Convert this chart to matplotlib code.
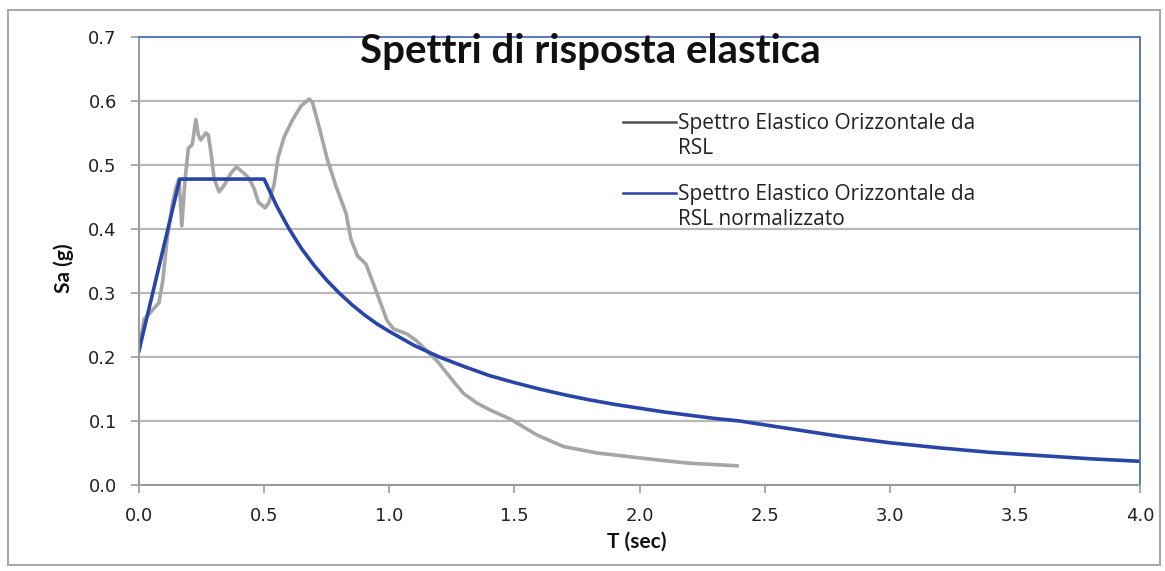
import matplotlib
matplotlib.use("Agg")
import matplotlib.pyplot as plt
from matplotlib.lines import Line2D
from matplotlib.patches import Rectangle

# --- data ---
T_rsl = [0.00, 0.02, 0.04, 0.08, 0.095, 0.113, 0.133, 0.147, 0.160, 0.171, 0.184, 0.197,
         0.213, 0.227, 0.237, 0.247, 0.267, 0.277, 0.287, 0.300, 0.320, 0.340, 0.367,
         0.389, 0.420, 0.440, 0.460, 0.477, 0.504, 0.520, 0.540, 0.556, 0.580, 0.613,
         0.647, 0.680, 0.693, 0.720, 0.753, 0.787, 0.827, 0.847, 0.873, 0.907, 0.940,
         0.991, 1.017, 1.071, 1.110, 1.191, 1.250, 1.297, 1.350, 1.404, 1.484, 1.591,
         1.697, 1.831, 1.964, 2.100, 2.200, 2.390]
Sa_rsl = [0.210, 0.259, 0.267, 0.285, 0.319, 0.386, 0.438, 0.464, 0.478, 0.405, 0.476, 0.526,
          0.532, 0.571, 0.547, 0.539, 0.550, 0.547, 0.521, 0.479, 0.458, 0.468, 0.487,
          0.497, 0.487, 0.479, 0.463, 0.442, 0.433, 0.442, 0.470, 0.512, 0.544, 0.570,
          0.592, 0.603, 0.598, 0.559, 0.508, 0.467, 0.425, 0.384, 0.358, 0.345, 0.311,
          0.257, 0.244, 0.236, 0.225, 0.194, 0.165, 0.143, 0.128, 0.117, 0.103, 0.078,
          0.060, 0.050, 0.044, 0.038, 0.034, 0.030]

T_norm = [0.00, 0.163, 0.50, 0.55, 0.60, 0.65, 0.70, 0.75, 0.80, 0.85, 0.90, 0.95, 1.00,
          1.10, 1.20, 1.30, 1.40, 1.50, 1.60, 1.70, 1.80, 1.90, 2.00, 2.10, 2.20, 2.30,
          2.40, 2.50, 2.60, 2.70, 2.80, 2.90, 3.00, 3.20, 3.40, 3.60, 3.80, 4.00]
Sa_norm = [0.210, 0.478, 0.478, 0.436, 0.400, 0.369, 0.343, 0.320, 0.300, 0.282, 0.266,
           0.252, 0.240, 0.218, 0.200, 0.185, 0.171, 0.160, 0.150, 0.141, 0.133, 0.126,
           0.120, 0.114, 0.109, 0.104, 0.100, 0.094, 0.088, 0.082, 0.076, 0.071, 0.066,
           0.058, 0.051, 0.046, 0.041, 0.037]

x_ticks = [0.0, 0.5, 1.0, 1.5, 2.0, 2.5, 3.0, 3.5, 4.0]
y_ticks = [0.0, 0.1, 0.2, 0.3, 0.4, 0.5, 0.6, 0.7]

title = "Spettri di risposta elastica"
label_rsl = "Spettro Elastico Orizzontale da\nRSL"
label_norm = "Spettro Elastico Orizzontale da\nRSL normalizzato"

W, H = 1165, 571
fig = plt.figure(figsize=(W / 100, H / 100), dpi=100)
fig.patch.set_facecolor("white")

# outer chart border
fig.add_artist(Rectangle((8 / W, 1 - 565 / H), (1160 - 8) / W, (565 - 10) / H,
                         transform=fig.transFigure, fill=False,
                         edgecolor="#a8a8a8", linewidth=1.5))

ax = fig.add_axes([139 / W, 1 - 485 / H, (1140 - 139) / W, (485 - 37) / H])
ax.set_xlim(0, 4.0)
ax.set_ylim(0, 0.7)
ax.set_xticks(x_ticks)
ax.set_yticks(y_ticks)
ax.set_xticklabels([f"{v:.1f}" for v in x_ticks])
ax.set_yticklabels([f"{v:.1f}" for v in y_ticks])
ax.grid(axis="y", color="#b8b8b8", linewidth=1.6)
ax.set_axisbelow(True)

for s in ["top", "right"]:
    ax.spines[s].set_color("#5a78c0")
    ax.spines[s].set_linewidth(1.4)
for s in ["left", "bottom"]:
    ax.spines[s].set_color("#9a9a9a")
    ax.spines[s].set_linewidth(1.4)

ax.tick_params(axis="both", colors="#9a9a9a", labelcolor="#222222",
               labelsize=13, length=6, width=1.2)
ax.tick_params(axis="y", pad=10)
ax.tick_params(axis="x", pad=10)

ax.plot(T_rsl, Sa_rsl, color="#a6a6a6", linewidth=2.6, solid_joinstyle="round")
ax.plot(T_norm, Sa_norm, color="#2a45a8", linewidth=2.6, solid_joinstyle="round")

fig.text(590 / W, 1 - 51 / H, title, ha="center", va="center",
         fontsize=29, fontweight="bold", family="Lato", color="#111111")
fig.text(64 / W, 1 - 268 / H, "Sa (g)", ha="center", va="center", rotation=90,
         fontsize=15, fontweight="bold", family="Lato", color="#111111")
fig.text(637 / W, 1 - 542 / H, "T (sec)", ha="center", va="center",
         fontsize=15, fontweight="bold", family="Lato", color="#111111")

# legend drawn manually (handle aligned with first text line)
for (ly, col, lab) in [(122, "#505050", label_rsl), (193, "#2a45a8", label_norm)]:
    fig.add_artist(Line2D([623 / W, 676 / W], [1 - ly / H, 1 - ly / H],
                          transform=fig.transFigure, color=col, linewidth=1.8))
    fig.text(678 / W, 1 - (ly - 9) / H, lab, ha="left", va="top",
             fontsize=15, family="Open Sans", color="#222222", linespacing=1.25)

fig.savefig("out.png", dpi=100)
